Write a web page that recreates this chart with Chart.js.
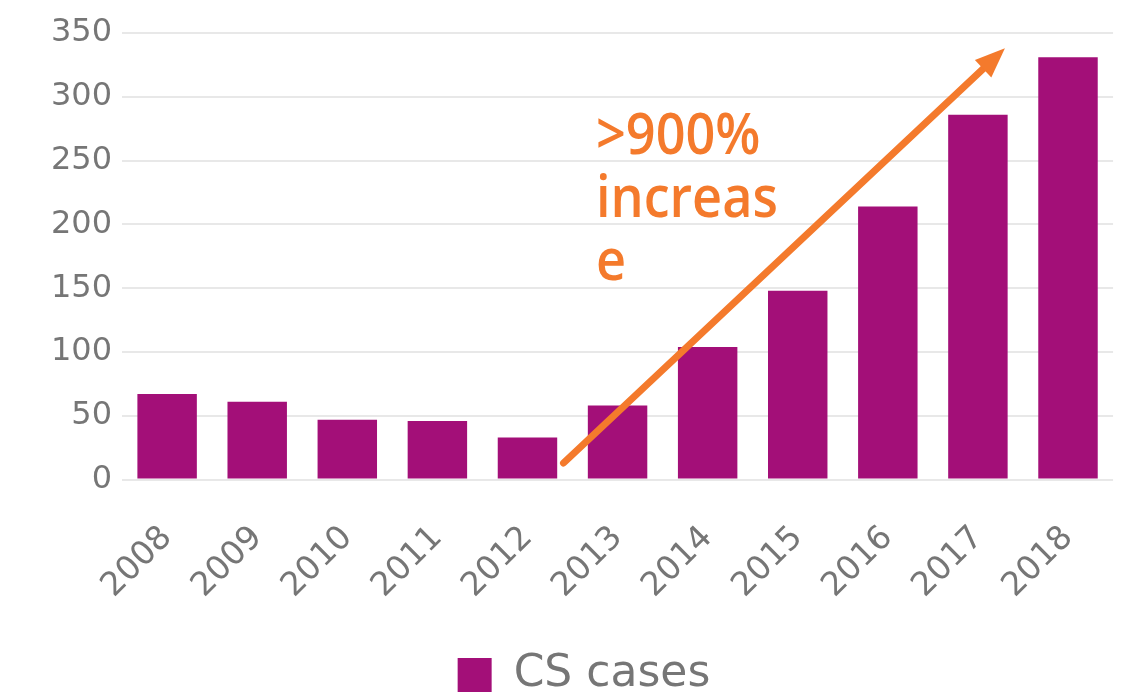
<!DOCTYPE html>
<html>
<head>
<meta charset="utf-8">
<script src="https://cdn.jsdelivr.net/npm/chart.js@4.4.0/dist/chart.umd.min.js"></script>
<style>
  html, body { margin: 0; padding: 0; background: #fff; }
  #wrap { width: 1127px; height: 700px; }
</style>
</head>
<body>
<div id="wrap"><canvas id="casesChart"></canvas></div>
<script>
// Chart data
const years = ['2008', '2009', '2010', '2011', '2012', '2013', '2014', '2015', '2016', '2017', '2018'];
const csCases = [67, 61, 47, 46, 33, 58, 104, 148, 214, 286, 331];
const yTicks = [0, 50, 100, 150, 200, 250, 300, 350];

// Annotation: arrow from / to, in [category index, value]
const arrowFrom = [4.4, 13];
const arrowTo = [9.3, 338];
const noteLines = ['>900%', 'increas', 'e'];
const noteAt = [4.76, 255];

const barColor = '#A30F78';
const orange = '#F47A2C';
const tickGray = '#767676';

// Arrow + text drawn on top of bars
const arrowPlugin = {
    id: 'growthArrow',
    afterDatasetsDraw(chart) {
        const ctx = chart.ctx;
        const x = chart.scales.x;
        const y = chart.scales.y;
        const x1 = x.getPixelForValue(arrowFrom[0]);
        const y1 = y.getPixelForValue(arrowFrom[1]);
        const x2 = x.getPixelForValue(arrowTo[0]);
        const y2 = y.getPixelForValue(arrowTo[1]);
        const ang = Math.atan2(y2 - y1, x2 - x1);
        const headLen = 30;
        const headW = 12;

        ctx.save();
        ctx.strokeStyle = orange;
        ctx.fillStyle = orange;
        ctx.lineWidth = 7;
        ctx.lineCap = 'round';
        ctx.beginPath();
        ctx.moveTo(x1, y1);
        ctx.lineTo(x2 - Math.cos(ang) * (headLen - 4), y2 - Math.sin(ang) * (headLen - 4));
        ctx.stroke();

        ctx.beginPath();
        ctx.moveTo(x2, y2);
        ctx.lineTo(x2 - Math.cos(ang) * headLen - Math.sin(ang) * headW,
                   y2 - Math.sin(ang) * headLen + Math.cos(ang) * headW);
        ctx.lineTo(x2 - Math.cos(ang) * headLen + Math.sin(ang) * headW,
                   y2 - Math.sin(ang) * headLen - Math.cos(ang) * headW);
        ctx.closePath();
        ctx.fill();

        // text block
        const tx = x.getPixelForValue(noteAt[0]);
        const ty = y.getPixelForValue(noteAt[1]);
        ctx.font = '600 58px "Open Sans"';
        ctx.textBaseline = 'alphabetic';
        ctx.textAlign = 'left';
        noteLines.forEach((line, i) => {
            ctx.save();
            ctx.translate(tx, ty + i * 63);
            ctx.scale(0.9, 1);
            ctx.fillText(line, 0, 0);
            ctx.restore();
        });
        ctx.restore();
    }
};

const ctx = document.getElementById('casesChart').getContext('2d');

new Chart(ctx, {
    type: 'bar',
    data: {
        labels: years,
        datasets: [{
            label: 'CS cases',
            data: csCases,
            backgroundColor: barColor,
            borderWidth: 0,
            barPercentage: 0.66,
            categoryPercentage: 1.0
        }]
    },
    options: {
        responsive: true,
        maintainAspectRatio: false,
        animation: false,
        layout: {
            padding: { top: 33, right: 0, left: 41, bottom: -7 }
        },
        plugins: {
            legend: {
                position: 'bottom',
                labels: {
                    color: tickGray,
                    boxWidth: 34,
                    boxHeight: 34,
                    padding: 16,
                    font: { family: 'DejaVu Sans', size: 44, lineHeight: 1 }
                }
            },
            tooltip: { enabled: false }
        },
        scales: {
            y: {
                min: 0,
                max: 350,
                afterBuildTicks: (axis) => {
                    axis.ticks = yTicks.map(v => ({ value: v }));
                },
                border: { display: false },
                grid: {
                    color: '#e8e8e8',
                    lineWidth: 2,
                    drawTicks: false
                },
                ticks: {
                    color: tickGray,
                    padding: 10,
                    font: { family: 'DejaVu Sans', size: 32 }
                }
            },
            x: {
                border: { display: false },
                grid: { display: false },
                ticks: {
                    color: tickGray,
                    maxRotation: 45,
                    minRotation: 45,
                    padding: 31,
                    font: { family: 'DejaVu Sans', size: 33 }
                }
            }
        }
    },
    plugins: [arrowPlugin]
});
</script>
</body>
</html>
